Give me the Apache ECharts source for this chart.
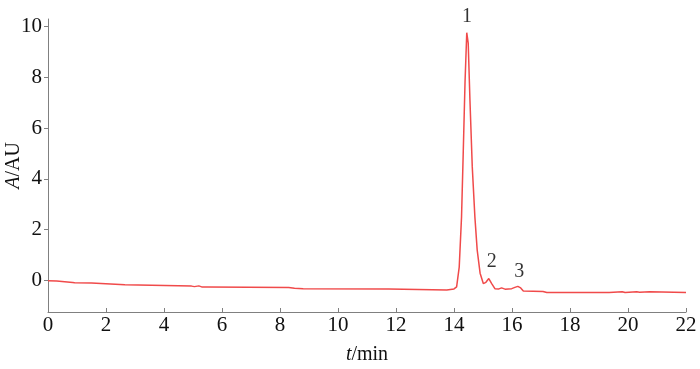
<!DOCTYPE html>
<html><head><meta charset="utf-8">
<script src="https://cdn.jsdelivr.net/npm/echarts@6/dist/echarts.min.js"></script>
<style>html,body{margin:0;padding:0;background:#fff}#c{width:700px;height:369px}</style>
</head><body><div id="c"></div>
<script>
const times = [0,0.3,0.32,0.85,0.88,0.92,1.5,1.55,2.65,2.7,4.95,5.0,5.05,5.2,5.3,5.5,8.3,8.5,8.8,11.75,11.8,13.75,13.8,14.0,14.09,14.18,14.26,14.32,14.38,14.44,14.49,14.55,14.63,14.72,14.8,14.9,15.01,15.06,15.1,15.2,15.3,15.41,15.55,15.64,15.7,15.76,15.99,16.1,16.2,16.3,16.39,17.07,17.2,19.35,19.4,19.8,19.9,20.3,20.4,20.75,20.8,22];
const absorb = [-0.02,-0.03,-0.08,-0.09,-0.06,-0.1,-0.11,-0.17,-0.18,-0.22,-0.23,-0.2,-0.25,-0.22,-0.26,-0.26,-0.28,-0.31,-0.33,-0.34,-0.38,-0.38,-0.35,-0.34,-0.26,0.52,2.5,5.1,7.8,9.76,9.35,7.1,4.47,2.5,1.19,0.28,-0.13,-0.06,-0.08,0.07,-0.13,-0.33,-0.34,-0.3,-0.35,-0.35,-0.33,-0.28,-0.24,-0.3,-0.42,-0.44,-0.48,-0.48,-0.45,-0.45,-0.48,-0.45,-0.47,-0.45,-0.48,-0.48];
const peakNames = ['1','2','3'];
const peakTimes = [14.45,15.3,16.25];
const peakLabelY = [10.0,0.35,-0.05];
const xTicks = [0,2,4,6,8,10,12,14,16,18,20,22];
const yTicks = [0,2,4,6,8,10];

const chart = echarts.init(document.getElementById('c'));
const lineData = times.map((t,i)=>[t,absorb[i]]);
const labelData = peakNames.map((n,i)=>({value:[peakTimes[i],peakLabelY[i]],name:n}));
const font = '"Liberation Serif", "DejaVu Serif", serif';
chart.setOption({
  animation:false,
  grid:{left:48,right:14,top:19,bottom:57,outerBoundsMode:'none',containLabel:false},
  xAxis:{type:'value',min:0,max:22,interval:2,
    axisLine:{onZero:false,lineStyle:{color:'#808080',width:1}},
    axisTick:{inside:true,length:4,lineStyle:{color:'#808080'}},
    splitLine:{show:false},
    axisLabel:{color:'#111',fontFamily:font,fontSize:21,margin:3,
      formatter:v=>xTicks.includes(v)?String(v):''},
    name:'{i|t}/min',nameLocation:'middle',nameGap:33,nameMoveOverlap:false,
    nameTextStyle:{color:'#111',fontFamily:font,fontSize:20,
      rich:{i:{fontStyle:'italic',fontFamily:font,fontSize:20,color:'#111'}}}
  },
  yAxis:{type:'value',min:-1.25,max:10.3,
    axisLine:{show:true,onZero:false,lineStyle:{color:'#808080',width:1}},
    axisTick:{show:true,length:4,lineStyle:{color:'#808080'},customValues:yTicks},
    axisLabel:{color:'#111',fontFamily:font,fontSize:21,margin:6,customValues:yTicks},
    splitLine:{show:false},
    name:'{i|A}/AU',nameLocation:'middle',nameGap:24,nameRotate:90,nameMoveOverlap:false,
    nameTextStyle:{color:'#111',fontFamily:font,fontSize:20,
      rich:{i:{fontStyle:'italic',fontFamily:font,fontSize:20,color:'#111'}}}
  },
  series:[
    {type:'line',data:lineData,showSymbol:false,symbol:'none',
     lineStyle:{color:'#f04a4a',width:1.5},z:2},
    {type:'scatter',data:labelData,symbolSize:0,
     label:{show:true,position:'top',distance:0,formatter:p=>p.name,
       color:'#000',fontFamily:font,fontSize:20}}
  ]
});
</script></body></html>
